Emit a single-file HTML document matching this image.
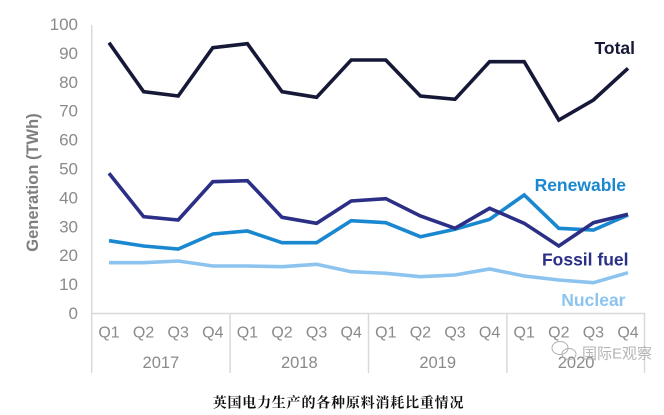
<!DOCTYPE html>
<html><head><meta charset="utf-8"><style>
html,body{margin:0;padding:0;background:#fff;}
svg{display:block;}
</style></head><body>
<svg width="664" height="415" viewBox="0 0 664 415" xmlns="http://www.w3.org/2000/svg">
<rect width="664" height="415" fill="#fff"/>
<!-- axes -->
<g stroke="#d9d9d9" stroke-width="1.5" fill="none">
<line x1="91.7" y1="25" x2="91.7" y2="373"/>
<line x1="91.7" y1="313.5" x2="645" y2="313.5"/>
<line x1="230.1" y1="313.5" x2="230.1" y2="373"/>
<line x1="368.5" y1="313.5" x2="368.5" y2="373"/>
<line x1="506.9" y1="313.5" x2="506.9" y2="373"/>
<line x1="644.5" y1="313.5" x2="644.5" y2="373"/>
</g>
<!-- y ticks -->
<g font-family="Liberation Sans, Arial, sans-serif" font-size="17" fill="#8a8a8a" text-anchor="end" dominant-baseline="central">
<text x="78" y="24.5">100</text>
<text x="78" y="53.4">90</text>
<text x="78" y="82.3">80</text>
<text x="78" y="111.2">70</text>
<text x="78" y="140.1">60</text>
<text x="78" y="169">50</text>
<text x="78" y="197.9">40</text>
<text x="78" y="226.8">30</text>
<text x="78" y="255.7">20</text>
<text x="78" y="284.6">10</text>
<text x="78" y="313.5">0</text>
</g>
<text transform="translate(33,182.5) rotate(-90)" font-family="Liberation Sans, Arial, sans-serif" font-size="16.5" font-weight="bold" fill="#7f7f7f" text-anchor="middle" dominant-baseline="central">Generation (TWh)</text>
<!-- x labels -->
<g font-family="Liberation Sans, Arial, sans-serif" font-size="16" fill="#8a8a8a" text-anchor="middle" dominant-baseline="central">
<text x="109" y="333">Q1</text><text x="143.6" y="333">Q2</text><text x="178.2" y="333">Q3</text><text x="212.8" y="333">Q4</text>
<text x="247.4" y="333">Q1</text><text x="282" y="333">Q2</text><text x="316.6" y="333">Q3</text><text x="351.2" y="333">Q4</text>
<text x="385.8" y="333">Q1</text><text x="420.4" y="333">Q2</text><text x="455" y="333">Q3</text><text x="489.6" y="333">Q4</text>
<text x="524.2" y="333">Q1</text><text x="558.8" y="333">Q2</text><text x="593.4" y="333">Q3</text><text x="628" y="333">Q4</text>
<text font-size="16.5" x="160.9" y="363">2017</text>
<text font-size="16.5" x="299.3" y="363">2018</text>
<text font-size="16.5" x="437.7" y="363">2019</text>
<text font-size="16.5" x="576.1" y="363">2020</text>
</g>
<!-- series -->
<g fill="none" stroke-width="3.6" stroke-linejoin="miter" stroke-linecap="butt">
<polyline stroke="#8cc4ef" points="109,262.7 143.6,262.7 178.2,261 212.8,266 247.4,266 282,266.7 316.6,264.3 351.2,271.7 385.8,273.3 420.4,276.7 455,275 489.6,269 524.2,276 558.8,280 593.4,282.7 628,272.7"/>
<polyline stroke="#1a88d0" points="109,240.7 143.6,246 178.2,249 212.8,234 247.4,231 282,242.7 316.6,242.7 351.2,220.7 385.8,222.7 420.4,236.7 455,229.3 489.6,219.3 524.2,195 558.8,228.3 593.4,230 628,215"/>
<polyline stroke="#2b2f86" points="109,173.3 143.6,216.7 178.2,220 212.8,181.7 247.4,180.7 282,217.3 316.6,223.3 351.2,201 385.8,198.7 420.4,216 455,228.3 489.6,208.3 524.2,223.3 558.8,246 593.4,222.7 628,214.3"/>
<polyline stroke="#151937" points="109,42.7 143.6,91.7 178.2,96 212.8,47.7 247.4,43.7 282,91.7 316.6,97.3 351.2,60 385.8,60 420.4,96 455,99.3 489.6,61.7 524.2,61.7 558.8,120 593.4,100 628,68.3"/>
</g>
<!-- series labels -->
<g font-family="Liberation Sans, Arial, sans-serif" font-size="17.5" font-weight="bold" text-anchor="end" dominant-baseline="central">
<text x="635" y="48" fill="#151937">Total</text>
<text x="626" y="185" fill="#1a88d0">Renewable</text>
<text x="628.5" y="259.5" fill="#2b2f86">Fossil fuel</text>
<text x="625.5" y="300" fill="#8cc4ef">Nuclear</text>
</g>
<!-- watermark -->
<g fill="none" stroke="#b0b0b0" stroke-width="1">
<ellipse cx="560" cy="348" rx="8" ry="6.5"/>
<ellipse cx="569" cy="354" rx="7" ry="5.5"/>
</g>
<text x="582" y="354" font-family="Liberation Sans, 'Noto Sans CJK SC', sans-serif" font-size="15" fill="#b5b5b5" dominant-baseline="central">国际E观察</text>
<!-- caption -->
<text x="338.5" y="404" font-family="Liberation Serif, 'Noto Serif CJK SC', serif" font-size="14" font-weight="bold" fill="#111" text-anchor="middle" dominant-baseline="central" letter-spacing="0.8">英国电力生产的各种原料消耗比重情况</text>
</svg>
</body></html>
